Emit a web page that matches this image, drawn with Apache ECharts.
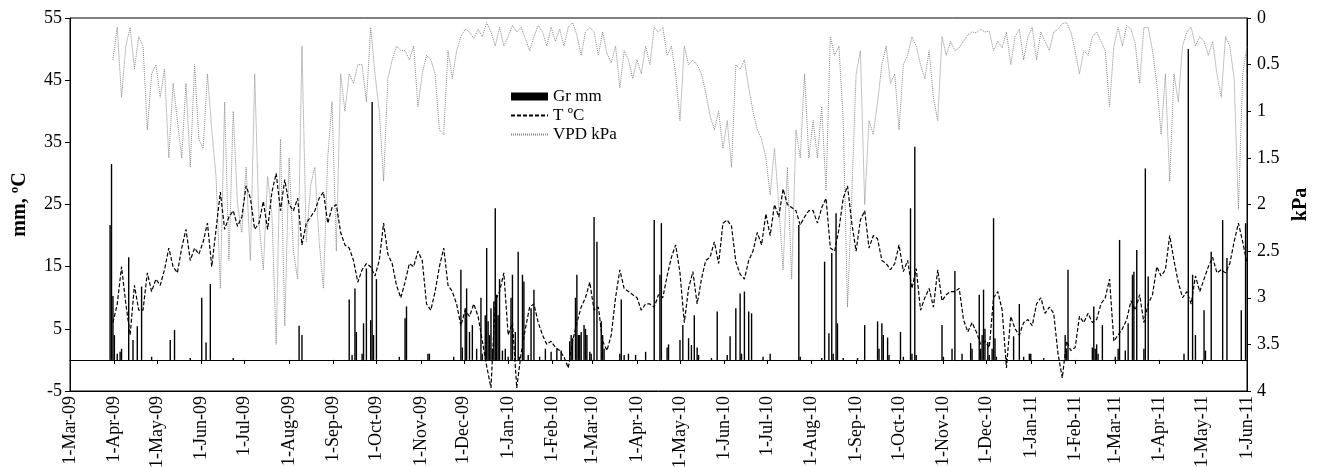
<!DOCTYPE html>
<html>
<head>
<meta charset="utf-8">
<script src="https://cdn.jsdelivr.net/npm/echarts@6/dist/echarts.min.js"></script>
<style>
html,body{margin:0;padding:0;background:#fff;}
#chart{width:1317px;height:467px;}
</style>
</head>
<body>
<div id="chart"></div>
<script>
// ---- DATA ----
const firstDay = '2009-03-01';
const lastDay = '2011-06-01';
const monthNames = ['Jan','Feb','Mar','Apr','May','Jun','Jul','Aug','Sep','Oct','Nov','Dec'];
const seriesNames = ['Gr mm', 'T ºC', 'VPD kPa'];

// line readings: one value every 3 days, starting 30 days after firstDay
const sampleStart = 30;
const sampleStep = 3;

const tempC = [
  6,9,15,9,4,12,8,8,14,11, 13,12,14.5,18,15,14,18,21,16,18, 17,19,22,15,21,27,21,23,24,21.5, 23,28,26,21,22,25.5,21,27,30,24, 29,25,
  24,26,18.5,22,23,24,26,27,22,24.5, 25,20.5,18.5,18,16,12.5,14.5,15.5,15,13.5, 16,22,17,15.5,12,10,12.5,15.5,15,17.5, 16,9,8,11,15,18,12,11,9,5.5, 8,7,9,
  7,3,-1,-4.5,9.5,11,14,4,6,-4.5, 1,5,8.5,9,6,4,2.5,3,2,1.5, 0.5,-1.3,3,6,8.5,10,12.5,8,8.5,3, 1.5,4,10,14.5,11.5,11,10.5,10,8,9, 9,8.5,10.5,
  10,13.5,16.5,18.5,14,6,11.5,14.2,9,13, 16,16.5,19,15.5,22,22.5,21.5,15.8,13.8,13, 16,17.5,20.5,18.5,23.5,20,25,23,27.5,25, 24.5,24,21.7,23,24,24,22,24.5,26,18, 17.5,21,26,
  28,22,17.5,22.5,24,18,20,19.5,16,15.5, 14.5,15.5,18.5,14.2,16,11.5,14.7,8,10,11.5, 8.5,14.5,9.5,10.5,11,11,11.5,6.5,4.5,6, 4.5,2.5,3,2,10,11,8,-1.3,7,5, 4,6,6.5,
  5.5,9,10,7.5,8.5,7.5,1,-2.9,3,1.5, 2,7,6,7.5,6,6.5,9,10,13,3, 4,5,6.5,9.5,8,10.5,6,9,10.5,15, 13.5,14.5,20,16,12.5,10,11,9,13.5,11, 13,15,16.5,14,14.5,14,15.5,19,22,19, 15.5
];

const vpdKpa = [
  0.45,0.1,0.85,0.3,0.1,0.55,0.2,0.3,1.2,0.6, 0.5,0.85,0.55,1.5,0.7,1.1,1.5,0.7,1.6,0.5, 1.3,1.4,0.6,1.2,1.7,2.9,0.9,2.6,1.0,2.0, 2.3,1.6,2.6,0.6,2.2,2.7,1.7,2.1,3.5,1.3, 3.3,1.5,
  2.5,2.8,0.3,2.4,1.8,1.6,2.4,2.9,1.5,0.9, 2.5,0.6,1.0,0.6,0.7,0.5,0.5,0.9,0.1,0.6, 1.0,1.75,0.65,0.45,0.3,0.35,0.35,0.45,0.3,0.95, 0.6,0.4,0.45,0.6,1.2,1.25,0.35,0.65,0.35,0.2, 0.12,0.15,0.22,
  0.12,0.2,0.05,0.15,0.3,0.1,0.3,0.2,0.08,0.15, 0.1,0.22,0.35,0.2,0.08,0.15,0.3,0.1,0.25,0.12, 0.3,0.1,0.05,0.18,0.4,0.15,0.1,0.15,0.4,0.15, 0.38,0.48,0.3,0.75,0.35,0.45,0.65,0.45,0.6,0.3, 0.5,0.1,0.15,
  0.1,0.4,0.3,0.6,1.1,0.3,0.5,0.45,0.5,0.6, 0.8,1.05,1.2,1.0,1.4,1.1,1.6,0.5,0.55,0.45, 0.75,1.0,1.2,1.3,1.5,1.9,1.4,2.0,2.7,1.6, 2.8,1.2,1.5,0.6,1.5,1.1,1.5,0.95,1.85,0.2, 0.4,0.3,1.1,
  3.1,1.9,0.6,0.35,2.0,1.1,1.25,0.9,0.5,0.3, 0.7,0.6,1.2,0.5,0.4,0.2,0.3,0.5,0.65,0.35, 0.85,1.1,0.2,0.4,0.25,0.35,0.32,0.25,0.18,0.15, 0.16,0.12,0.15,0.14,0.35,0.25,0.32,0.15,0.5,0.2, 0.12,0.45,0.2,
  0.1,0.45,0.15,0.25,0.35,0.15,0.12,0.06,0.05,0.15, 0.35,0.6,0.35,0.4,0.2,0.15,0.25,0.35,0.95,0.3, 0.1,0.3,0.08,0.12,0.28,0.7,0.1,0.1,0.35,0.7, 1.25,0.6,1.75,0.6,0.9,0.3,0.15,0.1,0.3,0.2, 0.25,0.4,0.25,0.6,0.85,0.2,0.3,0.65,2.05,0.6, 0.3
];

// rainfall events: [days after firstDay, mm]
const rainfall = [
  [28,21.7],[29,31.5],[30,10.3],[31,4],[33,1],[35,1.3],[36,1.8],[41,16.5],[44,3.2],[47,5.4],[50,11.8],[57,0.5],[70,3.2],[73,4.8],[84,0.3],[92,10],[95,2.8],[98,12.2],[114,0.3],
  [160,5.5],[162,4],[195,9.7],[197,0.8],[199,11.5],[200,4.5],[204,1],[205,5.9],[207,14.7],[210,6.4],[211,41.5],[212,4],[214,13],[230,0.5],[234,6.7],[235,8.6],[250,1],[251,1],[268,0.5],
  [273,14.5],[274,2],[276,8.3],[277,11.5],[279,4.5],[281,5.6],[284,1.8],[287,10],[288,1],[290,7.2],[291,18],[292,6.2],[293,4],[294,8.3],[295,1.8],[296,9.4],[297,24.4],[298,10.5],[299,7.2],[300,13],
  [302,1.5],[304,1.8],[306,0.5],[308,10],[309,13.7],[311,4.5],[313,17.4],[314,0.5],[316,13.7],[317,12.6],[320,0.8],[322,8.3],[324,11.3],[328,0.5],[332,1.8],[336,1.3],[340,1.8],[343,1.5],
  [349,3],[350,4],[351,3.5],[353,10],[354,13.7],[355,4],[356,4],[357,4.5],[359,5.6],[360,5],[361,4],[363,1.3],[364,1],[366,23],[368,19],[371,6.2],[372,4],[373,1.8],[384,1],[385,9.7],[387,0.8],[390,1],[395,0.8],[402,1.3],
  [408,22.5],[412,13.7],[413,22],[417,2],[418,2.5],[426,3.2],[428,5.6],[432,3.5],[434,2.4],[436,7.2],[438,2],[439,0.8],[448,0.3],[452,7.8],[459,0.8],[461,3.8],[465,8.3],[468,10.7],[469,1],[471,11],[474,7.8],[476,7.5],
  [484,0.5],[489,1],[509,21.7],[510,0.5],[525,0.3],[527,15.8],[530,4.3],[532,17.2],[533,1],[535,23.6],[536,5.9],[540,0.3],[550,0.3],[555,5.6],[564,6.2],[565,1.8],[567,5.9],[568,4],[571,3.6],[572,0.8],
  [580,4.5],[582,0.5],[587,24.4],[588,1],[590,34.3],[591,0.8],[609,5.6],[610,0.5],[616,1.8],[618,14.3],[623,1],[629,2.7],[630,1.8],[635,10.5],[636,1.8],[637,4],[638,11.3],[639,5],[641,2.9],[642,0.8],[644,1.8],[645,22.8],[646,3.5],[647,0.5],
  [654,0.3],[659,3.8],[663,9],[666,0.5],[670,1],[671,1],[680,0.3],[695,4],[696,1.8],[697,14.5],[714,2],[715,8.6],[716,1.8],[717,2.5],[718,1],[721,5.6],[730,0.5],[732,1.8],[733,19.3],[737,1.5],[739,5.9],
  [742,13.7],[743,14.2],[745,17.7],[750,1.8],[751,30.8],[753,13.4],[778,1],[781,50],[784,13.7],[786,4],[792,8],[793,1.5],[797,17.4],[805,22.5],[808,16.4],[818,8],[821,22]
];

// ---- BUILD ----
const dates = [];
for (let t = Date.parse(firstDay + 'T00:00:00Z'); t <= Date.parse(lastDay + 'T00:00:00Z'); t += 86400000) {
  dates.push(new Date(t).toISOString().slice(0, 10));
}
const n = dates.length;
const tData = new Array(n).fill(null);
tempC.forEach((v, i) => { tData[sampleStart + i * sampleStep] = v; });
const vData = new Array(n).fill(null);
vpdKpa.forEach((v, i) => { vData[sampleStart + i * sampleStep] = v; });
const rData = new Array(n).fill(0);
rainfall.forEach(([d, mm]) => { rData[d] = mm; });

const isMonthStart = (idx, val) => val.slice(8, 10) === '01';
const fmtDate = v => {
  const y = v.slice(2, 4), m = +v.slice(5, 7), d = +v.slice(8, 10);
  return d + '-' + monthNames[m - 1] + '-' + y;
};
const FONT = 'Liberation Serif';
const hiddenSymbol = {opacity: 0, borderWidth: 0, color: 'transparent'};

const chart = echarts.init(document.getElementById('chart'), null, {renderer: 'canvas'});
chart.setOption({
  animation: false,
  backgroundColor: '#fff',
  grid: {left: 70, right: 70, top: 18, bottom: 76, show: true, borderColor: '#000', borderWidth: 1,
    containLabel: false, outerBoundsMode: 'none'},
  legend: {
    orient: 'vertical', left: 505, top: 83, itemGap: 2,
    itemWidth: 37, itemHeight: 8,
    textStyle: {fontFamily: 'Liberation Serif', fontSize: 17, color: '#000'},
    data: [
      {name: seriesNames[0], icon: 'rect'},
      {name: seriesNames[1], itemStyle: hiddenSymbol},
      {name: seriesNames[2], itemStyle: hiddenSymbol}
    ]
  },
  xAxis: [
    {
      type: 'category', data: dates, boundaryGap: false, position: 'bottom',
      axisLine: {show: true, onZero: false, lineStyle: {color: '#000', width: 1}},
      axisTick: {show: false},
      splitLine: {show: false},
      axisLabel: {interval: isMonthStart, rotate: 90, margin: 5, formatter: fmtDate,
        fontFamily: FONT, fontSize: 18, color: '#000'}
    },
    {
      type: 'category', data: dates, boundaryGap: false, position: 'bottom',
      axisLine: {show: true, onZero: true, onZeroAxisIndex: 0, lineStyle: {color: '#000', width: 1}},
      axisTick: {show: true, interval: isMonthStart, length: 4, inside: false, lineStyle: {color: '#000'}},
      axisLabel: {show: false},
      splitLine: {show: false}
    }
  ],
  yAxis: [
    {
      type: 'value', min: -5, max: 55, interval: 10, position: 'left',
      name: 'mm, ºC', nameLocation: 'middle', nameGap: 40, nameRotate: 90,
      nameTextStyle: {fontFamily: FONT, fontSize: 20, fontWeight: 'bold', color: '#000'},
      axisLine: {show: true, lineStyle: {color: '#000'}},
      axisTick: {show: true, length: 5, lineStyle: {color: '#000'}},
      splitLine: {show: false},
      axisLabel: {margin: 8, fontFamily: FONT, fontSize: 18, color: '#000'}
    },
    {
      type: 'value', min: 0, max: 4, interval: 0.5, position: 'right', inverse: true,
      name: 'kPa', nameLocation: 'middle', nameGap: 44, nameRotate: 90,
      nameTextStyle: {fontFamily: FONT, fontSize: 20, fontWeight: 'bold', color: '#000'},
      axisLine: {show: true, lineStyle: {color: '#000'}},
      axisTick: {show: true, length: 4, lineStyle: {color: '#000'}},
      splitLine: {show: false},
      axisLabel: {margin: 10, fontFamily: FONT, fontSize: 18, color: '#000'}
    }
  ],
  series: [
    {
      name: seriesNames[0], type: 'bar', xAxisIndex: 0, yAxisIndex: 0, data: rData,
      barWidth: 1.4, itemStyle: {color: '#000'}, z: 3
    },
    {
      name: seriesNames[1], type: 'line', xAxisIndex: 0, yAxisIndex: 0, data: tData,
      connectNulls: true, symbol: 'none', showSymbol: false,
      lineStyle: {color: '#000', width: 1.2, type: [4, 2]}, itemStyle: {color: '#000'}, z: 4
    },
    {
      name: seriesNames[2], type: 'line', xAxisIndex: 0, yAxisIndex: 1, data: vData,
      connectNulls: true, symbol: 'none', showSymbol: false,
      lineStyle: {color: '#888', width: 1, type: [1, 1]}, itemStyle: {color: '#888'}, z: 2
    }
  ]
});
</script>
</body>
</html>
